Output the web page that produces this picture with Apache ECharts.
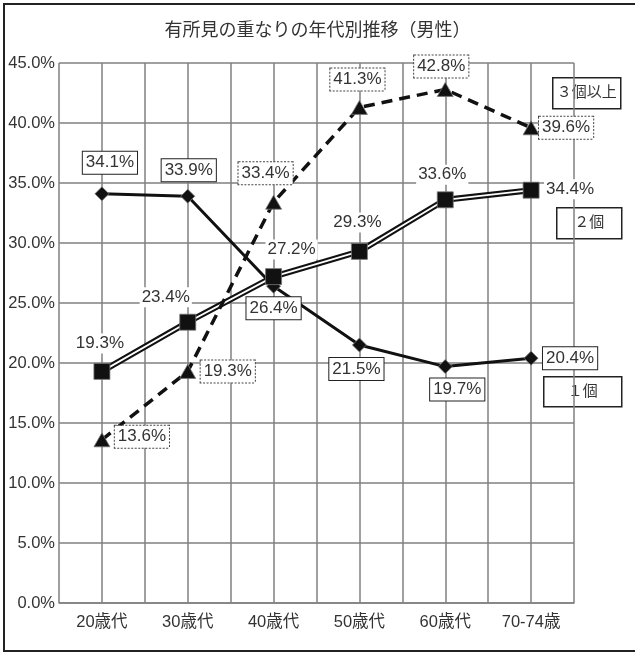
<!DOCTYPE html>
<html>
<head>
<meta charset="utf-8">
<script src="https://cdn.jsdelivr.net/npm/echarts@6/dist/echarts.min.js"></script>
<style>
  html, body { margin: 0; padding: 0; background: #fff; }
  #chart { width: 635px; height: 655px; }
</style>
</head>
<body>
<div id="chart"></div>
<script>
// Age groups on the x axis
const categories = ['20歳代', '30歳代', '40歳代', '50歳代', '60歳代', '70-74歳'];

// Share of men (%) by number of overlapping findings
const oneFinding = [34.1, 33.9, 26.4, 21.5, 19.7, 20.4];
const twoFindings = [19.3, 23.4, 27.2, 29.3, 33.6, 34.4];
const threePlusFindings = [13.6, 19.3, 33.4, 41.3, 42.8, 39.6];

// Value axis range
const yMin = 0;
const yMax = 45;
const yStep = 5;

const seriesNames = ['１個', '２個', '３個以上'];
const chartTitle = '有所見の重なりの年代別推移（男性）';

// Label placement: offset of each value label from its marker centre (px)
const offsetsOne = [[8, -31], [1, -26], [0, 22], [-3, 24], [12, 23], [39, 0]];
const offsetsTwo = [[-2, -28], [-22, -25], [18, -27], [-2, -29], [-3, -25], [39, -1]];
const offsetsThree = [[40, -3], [40, 0], [-8, -29], [-2, -28], [-4, -23], [35, 0]];

const FONT = "'Liberation Sans', 'Noto Sans CJK JP', sans-serif";
const TEXT = '#333';
const GRID = '#808080';

function withLabels(values, offsets, labelStyle) {
  return values.map((v, i) => ({
    value: v,
    label: Object.assign({ offset: offsets[i] }, labelStyle)
  }));
}

const baseLabel = {
  show: true,
  position: 'inside',
  fontFamily: FONT,
  fontSize: 17,
  lineHeight: 18,
  color: TEXT,
  backgroundColor: '#fff',
  formatter: p => p.value.toFixed(1) + '%'
};

const chart = echarts.init(document.getElementById('chart'), null, { renderer: 'canvas' });

// Name tag beside each line
function nameTag(text, x, y, w, h) {
  return {
    type: 'group',
    left: x, top: y,
    z: 100,
    children: [
      { type: 'rect', shape: { x: 0, y: 0, width: w, height: h },
        style: { fill: '#fff', stroke: '#222', lineWidth: 1.5 } },
      { type: 'text', x: w / 2, y: h / 2,
        style: { text: text, fontFamily: FONT, fontSize: 15, fill: TEXT,
                 align: 'center', verticalAlign: 'middle' } }
    ]
  };
}

chart.setOption({
  animation: false,
  backgroundColor: '#fff',
  title: {
    text: chartTitle,
    left: 'center',
    top: 17,
    textStyle: { fontFamily: FONT, fontSize: 18, fontWeight: 'normal', color: TEXT }
  },
  grid: { left: 59, right: 61, top: 63, bottom: 52, containLabel: false },
  xAxis: [
    {
      type: 'category',
      data: categories,
      boundaryGap: true,
      axisLine: { show: true, lineStyle: { color: GRID, width: 1.5 } },
      axisTick: { show: false },
      splitLine: { show: false },
      axisLabel: { fontFamily: FONT, fontSize: 16.5, color: TEXT, margin: 11 }
    },
    {
      // half-category gridlines
      type: 'value',
      min: 0, max: categories.length * 2, interval: 1,
      show: true,
      position: 'bottom',
      axisLine: { show: false },
      axisTick: { show: false },
      axisLabel: { show: false },
      splitLine: { show: true, lineStyle: { color: GRID, width: 1.5 } }
    }
  ],
  yAxis: {
    type: 'value',
    min: yMin, max: yMax, interval: yStep,
    axisLine: { show: false },
    axisTick: { show: false },
    axisLabel: {
      fontFamily: FONT, fontSize: 16.5, color: TEXT, margin: 4,
      formatter: v => v.toFixed(1) + '%'
    },
    splitLine: { show: true, lineStyle: { color: GRID, width: 1.5 } }
  },
  series: [
    {
      name: seriesNames[0],
      type: 'line',
      xAxisIndex: 0,
      data: withLabels(oneFinding, offsetsOne,
        Object.assign({}, baseLabel, { borderColor: '#222', borderWidth: 1, padding: [3, 3, 1, 3] })),
      symbol: 'diamond',
      symbolSize: [14, 14],
      lineStyle: { color: '#111', width: 3 },
      itemStyle: { color: '#111', borderColor: '#777', borderWidth: 0.8 },
      z: 3
    },
    {
      // outer stroke of the double line
      name: seriesNames[1] + '_outer',
      type: 'line',
      xAxisIndex: 0,
      data: twoFindings,
      symbol: 'none',
      lineStyle: { color: '#111', width: 6 },
      silent: true,
      z: 4
    },
    {
      name: seriesNames[1],
      type: 'line',
      xAxisIndex: 0,
      data: withLabels(twoFindings, offsetsTwo,
        Object.assign({}, baseLabel, { padding: [1, 2] })),
      symbol: 'rect',
      symbolSize: 16,
      lineStyle: { color: '#fff', width: 1.8 },
      itemStyle: { color: '#111', borderColor: '#777', borderWidth: 0.8 },
      z: 5
    },
    {
      name: seriesNames[2],
      type: 'line',
      xAxisIndex: 0,
      data: withLabels(threePlusFindings, offsetsThree,
        Object.assign({}, baseLabel, { borderColor: '#444', borderWidth: 1, borderType: [2, 1.5], padding: [3, 3, 1, 3] })),
      symbol: 'triangle',
      symbolSize: [16, 14],
      lineStyle: { color: '#111', width: 3.5, type: [11, 7] },
      itemStyle: { color: '#111', borderColor: '#777', borderWidth: 0.8 },
      z: 6
    }
  ],
  graphic: [
    {
      type: 'rect',
      shape: { x: 4, y: 4, width: 660, height: 647 },
      style: { fill: 'none', stroke: '#222', lineWidth: 2 },
      z: 0, silent: true
    },
    nameTag(seriesNames[2], 552, 77, 68, 31),
    nameTag(seriesNames[1], 556, 207, 65, 31),
    nameTag(seriesNames[0], 543, 376, 78, 30)
  ]
});
</script>
</body>
</html>
